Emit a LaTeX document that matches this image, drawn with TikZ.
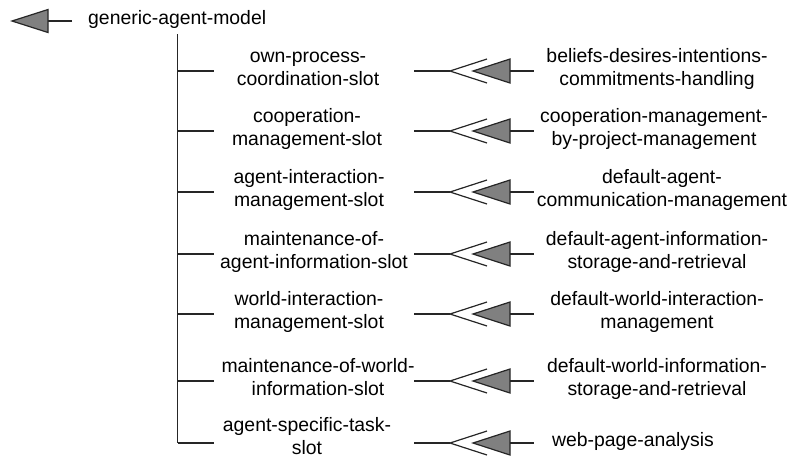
\documentclass[tikz,border=0pt]{standalone}
\usepackage{fontspec}
\setmainfont{Liberation Sans}
\usetikzlibrary{calc}
\newcommand{\topst}{\rule{0pt}{15pt}}
\newcommand{\botst}{\rule[-4pt]{0pt}{4pt}}
\begin{document}
\begin{tikzpicture}[x=1pt,y=-1pt,
  ln/.style={line width=1.2pt, draw=black!85},
  tip/.style={line width=1.2pt, draw=black!85, fill=black!50},
  txt/.style={inner sep=0pt, align=center, font=\fontsize{19.4}{23}\selectfont}]
\useasboundingbox (0,0) rectangle (791,459);
% root
\node[txt, anchor=base west] (root) at (88,24) {generic-agent-model};
\coordinate (rootend) at (72,21);
\coordinate (roottip) at (12,21);
\draw[ln] (rootend) -- ($(roottip)+(36,0)$);
\draw[tip] (roottip) -- ($(roottip)+(36,-11.5)$) -- ($(roottip)+(36,11.5)$) -- cycle;
% trunk
\coordinate (trunktop) at (177.5,34);
\coordinate (trunkbot) at (177.5,443);
\draw[ln] (trunktop) -- (trunkbot);
\foreach \i/\y/\dy/\sx/\stext/\tx/\ttext in {
  1/71/2.5/308/{own-process-\\coordination-slot}/657/{beliefs-desires-intentions-\\commitments-handling},
  2/131/2.5/307/{cooperation-\\management-slot}/654/{cooperation-management-\\by-project-management},
  3/192/2.5/309/{agent-interaction-\\management-slot}/662/{default-agent-\\communication-management},
  4/254/2.5/314/{maintenance-of-\\agent-information-slot}/657/{default-agent-information-\\storage-and-retrieval},
  5/314/2.5/309/{world-interaction-\\management-slot}/657/{default-world-interaction-\\management},
  6/381/2.5/318/{maintenance-of-world-\\information-slot}/657/{default-world-information-\\storage-and-retrieval},
  7/443/5.5/307/{agent-specific-task-\\slot}/633/{web-page-analysis}}{
  \node[txt] (s\i) at (\sx,\y-\dy) {\topst\stext\botst};
  \node[txt] (t\i) at (\tx,\y-2.5) {\topst\ttext\botst};
  \coordinate (b\i) at (177.5,\y);
  \coordinate (be\i) at (214,\y);
  \coordinate (sa\i) at (414,\y);
  \coordinate (ta\i) at (534,\y);
  \draw[ln] (b\i) -- (be\i);
  \draw[ln] (sa\i) -- ($(sa\i)+(36,0)$) coordinate (v\i);
  \draw[ln] ($(v\i)+(37,-12)$) -- (v\i) -- ($(v\i)+(37,12)$);
  \draw[tip] ($(v\i)+(23,0)$) -- ($(v\i)+(60,-12)$) -- ($(v\i)+(60,12)$) -- cycle;
  \draw[ln] ($(v\i)+(60,0)$) -- (ta\i);
}
\end{tikzpicture}
\end{document}
